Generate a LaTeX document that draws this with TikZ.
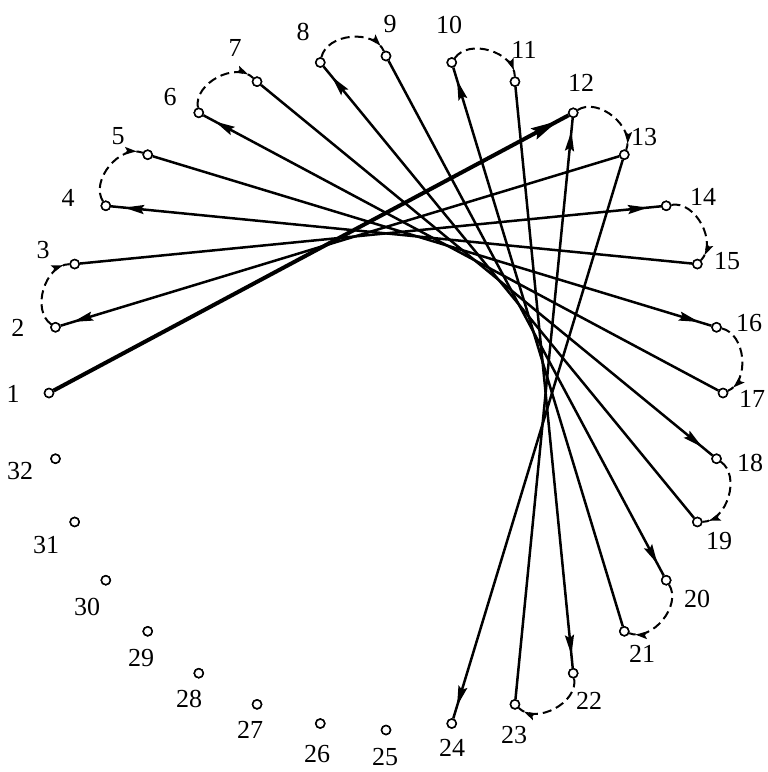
\documentclass[tikz,border=0pt]{standalone}
\usepackage{fontspec}
\setmainfont{Liberation Serif}
\usetikzlibrary{arrows.meta,decorations.markings}
\tikzset{
  pt/.style={circle, draw, fill=white, inner sep=0pt, minimum size=9pt, line width=1.5pt},
  lab/.style={inner sep=0pt, font=\fontsize{26}{30}\selectfont},
  chord/.style={line width=2.5pt, postaction={decorate},
    decoration={markings, mark=at position -13pt with {\arrow{Stealth[length=20pt,width=9pt,inset=3pt]}}}},
  thickchord/.style={line width=4pt, postaction={decorate},
    decoration={markings, mark=at position -12pt with {\arrow{Stealth[length=27pt,width=12pt,inset=4pt]}}}},
  darc/.style={line width=2pt, dash pattern=on 9pt off 5pt, postaction={decorate},
    decoration={markings, mark=at position -6pt with {\arrow{Stealth[length=12pt,width=7pt,inset=2pt]}}}}
}
\begin{document}
\begin{tikzpicture}[x=1pt,y=-1pt]
\useasboundingbox (0,0) rectangle (768,772);
\foreach \k in {1,...,32}
  \coordinate (p\k) at ({386-337*cos((\k-1)*11.25)},{393-337*sin((\k-1)*11.25)});
\foreach \k in {1,...,32}
  \node[pt] (n\k) at (p\k) {};
% chords
\draw[thickchord] (n1) -- (n12);
\foreach \a/\b in {13/2,3/14,15/4,5/16,17/6,7/18,19/8,9/20,21/10,11/22,23/12,13/24}
  \draw[chord] (n\a) -- (n\b);
% dashed arcs
\foreach \a/\b in {2/3,4/5,6/7,8/9,10/11,12/13,14/15,16/17,18/19,20/21,22/23}
  \draw[darc] (n\a) to[bend left=72] (n\b);
% redraw points on top
\foreach \k in {1,...,32}
  \node[pt] (m\k) at (p\k) {};
% labels
\foreach \k/\x/\y in {1/13/394,2/18/328,3/43/250,4/68/198,5/118/136,6/170/97,7/235/48,8/303/32,
  9/390/24,10/449/25,11/524/50,12/581/83,13/644/137,14/703/197,15/727/261,16/749/323,
  17/752/399,18/750/463,19/719/541,20/697/599,21/642/654,22/589/701,23/514/735,24/452/748,
  25/385/757,26/317/754,27/250/730,28/189/699,29/141/658,30/87/607,31/46/545,32/20/471}
  \node[lab] (l\k) at (\x,\y) {\k};
\end{tikzpicture}
\end{document}
